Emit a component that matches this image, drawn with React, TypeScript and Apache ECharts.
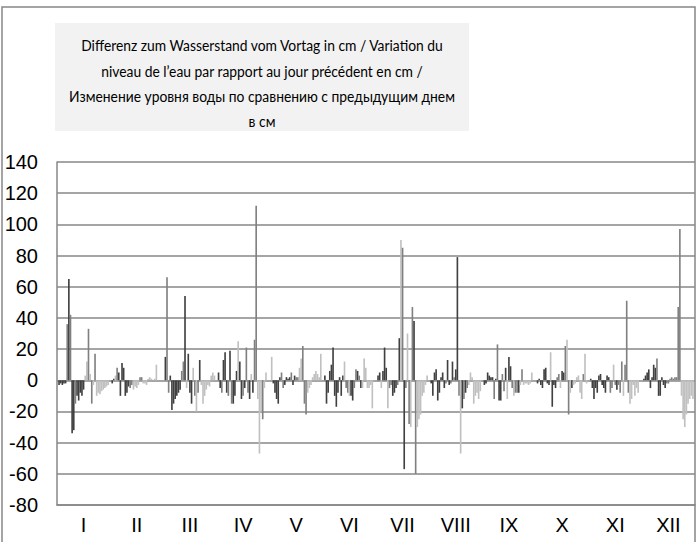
import React, { useEffect, useRef } from "react";
import * as echarts from "echarts";

// Months (categories) – each month holds one bar per day of the month
const months = ["I", "II", "III", "IV", "V", "VI", "VII", "VIII", "IX", "X", "XI", "XII"];

// Daily change of water level vs previous day, cm
const jan = [-3, -2, -3, -2, -2, 36, 65, 42, -34, -32, -15, -10, -13, -8, -10, -6, 3, 12, 33, 4, -15, -3, 17, -10, -8, -9, -7, -6, -5, -4, -3];
const feb = [-2, 1, 3, 8, 5, -10, 11, 8, -10, -8, -4, -5, -3, -6, -4, -5, -3, 2, 2, -2, -2, -3, 1, 2, 1, 0, 1, 10];
const mar = [15, 66, -8, 3, -19, -15, -12, -10, -8, -6, 6, 12, 54, -5, 17, -8, -15, 8, -10, -20, -8, 13, -3, -15, -10, -6, -3, -4, 3, 5, 3];
const apr = [5, -5, -8, 13, 18, -8, -10, 19, -15, -15, -10, 6, 25, 12, -12, -10, -5, 21, -8, -12, 4, -8, 26, 112, -12, -47, -20, -25, -5, 5];
const may = [15, -2, -8, -12, -15, 2, 5, -5, -3, 2, 1, 2, 5, -3, 3, 2, 2, 8, 14, 22, -15, -22, -8, -5, -3, 2, 4, 6, 4, 2, 17];
const jun = [3, -15, -8, 6, 10, 21, -10, -17, -8, 2, -10, 3, 12, -5, -8, -10, -10, -13, -5, 7, 6, 3, -5, -5, 14, 8, -5, -5, -3, -18];
const jul = [3, 5, -5, 6, 21, 8, -18, -5, -3, -10, -8, -5, -3, 27, 90, 85, -57, -5, 30, -28, -30, 47, 38, -60, -30, -25, -22, -10, -8, -3, 3];
const aug = [-2, -10, 5, 7, -13, -8, 2, 5, -5, -2, 13, -3, -2, 12, 2, 7, 79, -10, -47, -18, -12, -8, -5, -3, 5, 2, -15, -10, -8, -12, -7];
const sep = [-3, -2, 5, 3, 2, 2, -12, 1, 23, -13, -13, 4, -7, 8, -12, 15, 9, -5, -10, -8, -8, -8, -3, 7, -3, -2, -2, -3, -2, 5];
const oct = [-2, 1, -3, -5, 7, 8, -2, -3, 18, -17, -3, -5, 2, 4, -5, 6, 5, 22, 26, -22, -8, -5, -3, -2, 2, 3, -8, -12, 4, 17, -2];
const nov = [1, -5, -12, -5, -8, 3, 4, -3, -5, -8, 3, 2, -8, -5, 10, -3, -6, -3, -8, 12, -10, 10, 51, -8, -15, -12, -3, -10, -5, -8];
const dec = [1, 3, 5, 7, -5, 2, 10, 8, 14, -10, -10, 2, -3, -5, -2, -2, 1, 2, 1, 2, 2, 47, 97, -10, -25, -30, -22, -15, -12, -10, -12];

// Grey tone of each daily bar (d = dark, m = medium, l = light)
const janTone = "dddddmdmddmdddddllmlmlmllllllll";
const febTone = "ddlmdddddddmmllllmmlllllllll";
const marTone = "dmmdddddddmmdldddlmlmdlllllllll";
const aprTone = "ddmdddmdmdddlddmdmmdldmmlllmll";
const mayTone = "ldddddmmddddmddmmllmmmlllllllll";
const junTone = "ddddddddddddlmmlddmmdmdlllllll";
const julTone = "ddldddlmmdddmdlmdmlmlmdmlllllll";
const augTone = "dddddddddmddmdmddmldmdmllllllll";
const sepTone = "ddddddmdmddmmdlddmlmmdlmllllll";
const octTone = "ddddddddldddmmlddmlmldllllllmll";
const novTone = "ddddddddddddmmlmdmmmlmmmllllll";
const decTone = "ddddddddmdddddmmmmmmmmmllllllll";

// Y axis scale
const yMin = -80;
const yMax = 140;
const yStep = 20;

const titleLines = [
  "Differenz zum Wasserstand vom Vortag in cm / Variation du",
  "niveau de l\u2019eau par rapport au jour précédent en cm /",
  "Изменение уровня воды по сравнению с предыдущим днем",
  "в см",
];

const monthValues = [jan, feb, mar, apr, may, jun, jul, aug, sep, oct, nov, dec];
const monthTones = [janTone, febTone, marTone, aprTone, mayTone, junTone, julTone, augTone, sepTone, octTone, novTone, decTone];

const TONE: Record<string, string> = { d: "#404040", m: "#808080", l: "#c0c0c0" };
const GRID = "#878787";

export default function App() {
  const ref = useRef<HTMLDivElement>(null);

  useEffect(() => {
    if (!ref.current) return;
    const chart = echarts.init(ref.current, null, { renderer: "svg" });

    const series: any[] = [];
    for (let d = 0; d < 31; d++) {
      series.push({
        type: "bar",
        name: String(d + 1),
        silent: true,
        barGap: "0%",
        barCategoryGap: "4.6%",
        data: monthValues.map((vals, m) =>
          d < vals.length
            ? { value: vals[d], itemStyle: { color: TONE[monthTones[m][d]] } }
            : "-"
        ),
      });
    }

    // title: narrow (Calibri-like) text, one horizontal scale for all lines
    const titleFont = '16px Lato, "Noto Sans", sans-serif';
    const lineW = [331, 340, 400];
    const lineY = [45, 70.5, 96, 121];
    let scaleX = 0.88;
    try {
      const c = document.createElement("canvas").getContext("2d");
      if (c) {
        c.font = titleFont;
        let sum = 0;
        lineW.forEach((tw, i) => {
          sum += tw / c.measureText(titleLines[i]).width;
        });
        const s = sum / lineW.length;
        if (isFinite(s) && s > 0) scaleX = Math.min(1.05, s);
      }
    } catch (e) {}

    chart.setOption({
      animation: false,
      backgroundColor: "#ffffff",
      grid: { left: 57, right: 1, top: 162, bottom: 37, containLabel: false },
      xAxis: {
        type: "category",
        data: months,
        axisLine: { show: true, onZero: false, lineStyle: { color: GRID, width: 1.5 } },
        axisTick: { show: false },
        splitLine: { show: false },
        axisLabel: {
          color: "#000",
          fontFamily: "Liberation Sans, Arial, sans-serif",
          fontSize: 20,
          margin: 10,
        },
      },
      yAxis: {
        type: "value",
        min: yMin,
        max: yMax,
        interval: yStep,
        axisLine: { show: true, lineStyle: { color: GRID, width: 1.5 } },
        axisTick: { show: false },
        splitLine: { show: true, lineStyle: { color: GRID, width: 1.5 } },
        axisLabel: {
          color: "#000",
          fontFamily: "Liberation Sans, Arial, sans-serif",
          fontSize: 20,
          margin: 19,
        },
      },
      series,
      graphic: [
        {
          type: "rect",
          silent: true,
          z: -10,
          shape: { x: 2, y: 7, width: 693, height: 560 },
          style: { fill: "none", stroke: GRID, lineWidth: 1.5 },
        },
        {
          type: "rect",
          silent: true,
          shape: { x: 55, y: 23, width: 414, height: 108 },
          style: { fill: "#f2f2f2" },
        },
        ...titleLines.map((t, i) => ({
          type: "text",
          silent: true,
          x: 262,
          y: lineY[i],
          scaleX,
          style: {
            text: t,
            font: titleFont,
            fill: "#000",
            align: "center",
            verticalAlign: "middle",
          },
        })),
      ],
    });

    return () => chart.dispose();
  }, []);

  return (
    <div
      ref={ref}
      style={{ position: "absolute", left: 0, top: 0, width: 696, height: 542 }}
    />
  );
}
